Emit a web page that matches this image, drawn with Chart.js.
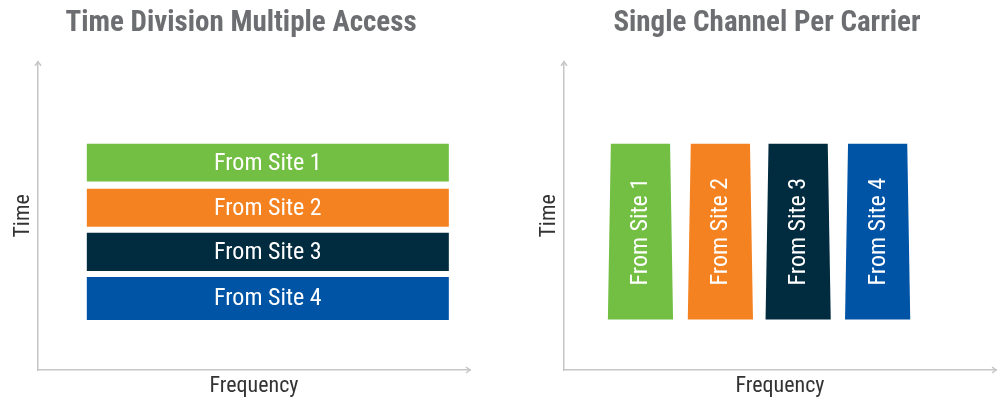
<!DOCTYPE html>
<html>
<head>
<meta charset="utf-8">
<script src="https://cdn.jsdelivr.net/npm/chart.js@4/dist/chart.umd.min.js"></script>
<style>
  body { margin: 0; background: #fff; width: 1000px; height: 402px; position: relative; overflow: hidden; }
  canvas { position: absolute; top: 0; }
  #tdma { left: 0; }
  #scpc { left: 526px; }
</style>
</head>
<body>
<canvas id="tdma" width="474" height="402"></canvas>
<canvas id="scpc" width="474" height="402"></canvas>
<script>
// sites and colours
var sites = ['From Site 1', 'From Site 2', 'From Site 3', 'From Site 4'];
var siteColors = ['#72bf44', '#f58220', '#012b3f', '#0054a6'];

// TDMA: one shared carrier, each site gets its own time slot
var tdmaFreq = [53.2, 53.2, 53.2, 53.2];
var tdmaTimeStart = [61.2, 46.5, 32.1, 16.2];
var tdmaTimeEnd = [73.4, 58.8, 44.5, 30.2];

// SCPC: each site gets its own carrier, all the time
var scpcFreq = [17.7, 36.2, 54.2, 72.6];
var scpcTimeStart = [16.4, 16.4, 16.4, 16.4];
var scpcTimeEnd = [73.4, 73.4, 73.4, 73.4];

var condensed = "'Liberation Sans Narrow', 'Roboto Condensed', Roboto, sans-serif";
var axisColor = '#c6c6c6';

// arrow heads on the two axes
var axisArrows = {
  id: 'axisArrows',
  afterDraw: function(chart) {
    var a = chart.chartArea, c = chart.ctx;
    c.save();
    c.strokeStyle = axisColor;
    c.lineWidth = 1.5;
    c.beginPath();
    c.moveTo(a.left - 3, a.top + 4); c.lineTo(a.left, a.top); c.lineTo(a.left + 3, a.top + 4);
    c.moveTo(a.right - 4, a.bottom - 3); c.lineTo(a.right, a.bottom); c.lineTo(a.right - 4, a.bottom + 3);
    c.stroke();
    c.restore();
  }
};

// white site names inside each bar
var barLabels = {
  id: 'barLabels',
  afterDatasetsDraw: function(chart, args, opts) {
    var c = chart.ctx;
    chart.getDatasetMeta(0).data.forEach(function(bar, i) {
      var p = bar.getProps(['x', 'y', 'base'], true);
      c.save();
      c.fillStyle = '#ffffff';
      c.font = opts.size + 'px ' + condensed;
      c.textAlign = 'center';
      c.textBaseline = 'middle';
      c.translate(p.x, (p.y + p.base) / 2);
      if (opts.vertical) c.rotate(-Math.PI / 2);
      c.fillText(sites[i], 0, 1);
      c.restore();
    });
  }
};

// SCPC carriers are drawn slightly tapered, wider at the bottom
var taperedBars = {
  id: 'taperedBars',
  beforeDatasetDraw: function(chart, args) {
    var c = chart.ctx;
    args.meta.data.forEach(function(bar, i) {
      var p = bar.getProps(['x', 'y', 'base', 'width'], true);
      var top = p.width / 2 - 1.5, bottom = p.width / 2 + 1.5;
      c.beginPath();
      c.moveTo(p.x - top, p.y);
      c.lineTo(p.x + top, p.y);
      c.lineTo(p.x + bottom, p.base);
      c.lineTo(p.x - bottom, p.base);
      c.closePath();
      c.fillStyle = siteColors[i];
      c.fill();
    });
    return false;
  }
};

function makeOptions(title, barPct, vertical) {
  return {
    responsive: false,
    animation: false,
    layout: { padding: { left: 12, right: 4, top: 0, bottom: 0 } },
    plugins: {
      legend: { display: false },
      tooltip: { enabled: false },
      title: {
        display: true,
        text: title,
        color: '#6d6e71',
        font: { family: condensed, size: 29, weight: 'bold' },
        padding: { top: 6, bottom: 21 }
      },
      barLabels: { size: 24, vertical: vertical }
    },
    datasets: { bar: { categoryPercentage: 1, barPercentage: barPct } },
    scales: {
      x: {
        type: 'linear', min: 0, max: 100, offset: false,
        grid: { display: false },
        border: { color: axisColor, width: 1.5 },
        ticks: { display: false, stepSize: 100 },
        title: { display: true, text: 'Frequency', color: '#333333',
                 font: { family: condensed, size: 22 }, padding: { top: 0, bottom: 2 } },
        afterFit: function(s) { s.height = 32; }
      },
      y: {
        type: 'linear', min: 0, max: 100,
        grid: { display: false },
        border: { color: axisColor, width: 1.5 },
        ticks: { display: false, stepSize: 100 },
        title: { display: true, text: 'Time', color: '#333333',
                 font: { family: condensed, size: 22, lineHeight: 1 }, padding: 0 },
        afterFit: function(s) { s.width = 26; }
      }
    }
  };
}

new Chart(document.getElementById('tdma'), {
  type: 'bar',
  data: {
    datasets: [{
      data: sites.map(function(s, i) { return { x: tdmaFreq[i], y: [tdmaTimeStart[i], tdmaTimeEnd[i]] }; }),
      backgroundColor: siteColors
    }]
  },
  options: makeOptions('Time Division Multiple Access', 0.838, false),
  plugins: [axisArrows, barLabels]
});

new Chart(document.getElementById('scpc'), {
  type: 'bar',
  data: {
    datasets: [{
      data: sites.map(function(s, i) { return { x: scpcFreq[i], y: [scpcTimeStart[i], scpcTimeEnd[i]] }; }),
      backgroundColor: siteColors
    }]
  },
  options: makeOptions('Single Channel Per Carrier', 0.8, true),
  plugins: [axisArrows, taperedBars, barLabels]
});
</script>
</body>
</html>
